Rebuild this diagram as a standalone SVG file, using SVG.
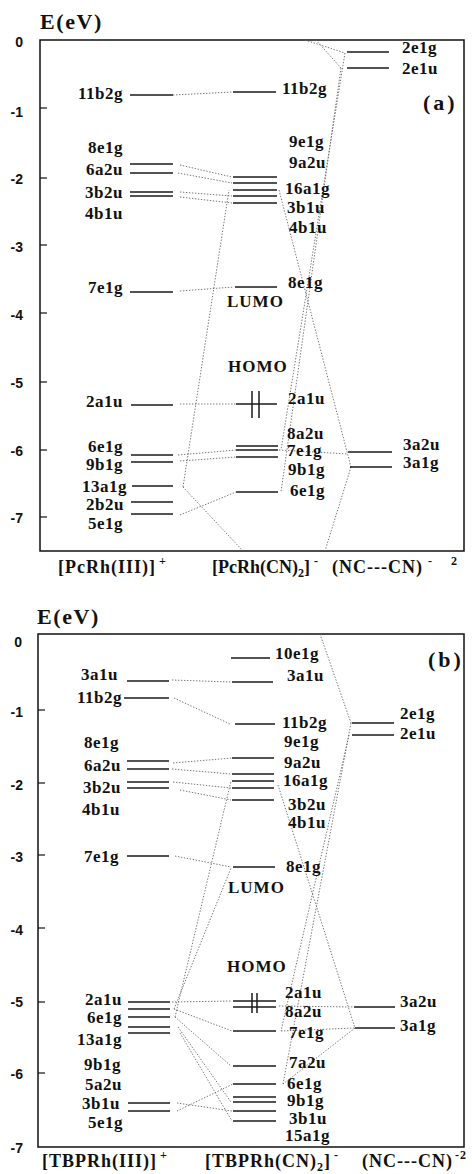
<svg xmlns="http://www.w3.org/2000/svg" width="472" height="1174" viewBox="0 0 472 1174">
<style>
.fr{fill:none;stroke:#111;stroke-width:1.5}
.tk{stroke:#111;stroke-width:1.2}
.lv{stroke:#1a1a1a;stroke-width:1.5}
.cn{fill:none;stroke:#666;stroke-width:0.9;stroke-dasharray:1.4 1.6}
.t{font-family:"Liberation Serif","Times New Roman",serif;font-weight:bold;font-size:17px;fill:#111;letter-spacing:0.5px}
.r{text-anchor:end}
.ax{font-family:"Liberation Sans",Arial,sans-serif;font-weight:bold;font-size:14px;fill:#111;text-anchor:end}
.big{font-family:"Liberation Serif","Times New Roman",serif;font-weight:bold;font-size:22px;fill:#111;letter-spacing:1.6px}
.pl{font-family:"Liberation Serif","Times New Roman",serif;font-weight:bold;font-size:22px;fill:#111;letter-spacing:3px}
.bt{font-family:"Liberation Serif","Times New Roman",serif;font-weight:bold;font-size:18px;fill:#111;letter-spacing:1px}
.bn{font-family:"Liberation Serif","Times New Roman",serif;font-weight:bold;font-size:18px;fill:#111;letter-spacing:0px}
.hl{font-family:"Liberation Serif","Times New Roman",serif;font-weight:bold;font-size:17px;fill:#111;letter-spacing:1px}
.sp{font-size:12px}
</style>

<!-- ================= Panel (a) ================= -->
<g id="a-axes">
<text class="big" x="40" y="29">E(eV)</text>
<rect class="fr" x="40" y="40" width="424" height="511"/>
<line class="tk" x1="40" y1="108" x2="47" y2="108"/>
<line class="tk" x1="40" y1="178" x2="47" y2="178"/>
<line class="tk" x1="40" y1="245" x2="47" y2="245"/>
<line class="tk" x1="40" y1="313" x2="47" y2="313"/>
<line class="tk" x1="40" y1="382" x2="47" y2="382"/>
<line class="tk" x1="40" y1="450" x2="47" y2="450"/>
<line class="tk" x1="40" y1="517" x2="47" y2="517"/>
<text class="ax" x="23" y="47">0</text>
<text class="ax" x="23" y="117">-1</text>
<text class="ax" x="23" y="184">-2</text>
<text class="ax" x="23" y="252">-3</text>
<text class="ax" x="23" y="320">-4</text>
<text class="ax" x="23" y="388">-5</text>
<text class="ax" x="23" y="456">-6</text>
<text class="ax" x="23" y="523">-7</text>
<text class="pl" x="423" y="110">(a)</text>
<text class="bt" x="58" y="573">[PcRh(III)]<tspan class="sp" dx="3" dy="-8">+</tspan></text>
<text class="bn" x="212" y="573">[PcRh(CN)<tspan class="sp" dy="4">2</tspan><tspan dy="-4">]</tspan><tspan class="sp" dx="4" dy="-8">-</tspan></text>
<text class="bt" x="332" y="573">(NC---CN)<tspan class="sp" x="428" dy="-8">-</tspan><tspan class="sp" x="451">2</tspan></text>
</g>

<g id="a-connectors">
<path class="cn" d="M173,95 L233,92"/>
<path class="cn" d="M180,165 L232,177"/>
<path class="cn" d="M178,173 L232,183"/>
<path class="cn" d="M180,192 L232,196"/>
<path class="cn" d="M180,197 L232,203"/>
<path class="cn" d="M180,291 L234,287"/>
<path class="cn" d="M180,404 L236,404"/>
<path class="cn" d="M178,455 L236,450"/>
<path class="cn" d="M180,461 L236,457"/>
<path class="cn" d="M183,487 L229,190"/>
<path class="cn" d="M183,487 L243,551"/>
<path class="cn" d="M180,515 L236,492"/>
<path class="cn" d="M305,40 L345,53"/>
<path class="cn" d="M316,40 L341,68"/>
<path class="cn" d="M345,53 L281,450"/>
<path class="cn" d="M341,68 L281,492"/>
<path class="cn" d="M279,190 L351,467"/>
<path class="cn" d="M279,450 L348,454"/>
<path class="cn" d="M351,467 L325,551"/>
</g>

<g id="a-c1-11b2g"><line class="lv" x1="130" y1="95" x2="173" y2="95"/><text class="t r" x="123" y="99">11b2g</text></g>
<g id="a-c1-8e1g"><line class="lv" x1="130" y1="164" x2="173" y2="164"/><text class="t r" x="123" y="153">8e1g</text></g>
<g id="a-c1-6a2u"><line class="lv" x1="130" y1="173" x2="173" y2="173"/><text class="t r" x="123" y="175">6a2u</text></g>
<g id="a-c1-3b2u"><line class="lv" x1="130" y1="192" x2="173" y2="192"/><text class="t r" x="123" y="198">3b2u</text></g>
<g id="a-c1-4b1u"><line class="lv" x1="130" y1="196" x2="173" y2="196"/><text class="t r" x="123" y="219">4b1u</text></g>
<g id="a-c1-7e1g"><line class="lv" x1="130" y1="292" x2="173" y2="292"/><text class="t r" x="123" y="293">7e1g</text></g>
<g id="a-c1-2a1u"><line class="lv" x1="131" y1="405" x2="173" y2="405"/><text class="t r" x="123" y="407">2a1u</text></g>
<g id="a-c1-6e1g"><line class="lv" x1="131" y1="455" x2="173" y2="455"/><text class="t r" x="123" y="452">6e1g</text></g>
<g id="a-c1-9b1g"><line class="lv" x1="131" y1="462" x2="173" y2="462"/><text class="t r" x="123" y="470">9b1g</text></g>
<g id="a-c1-13a1g"><line class="lv" x1="132" y1="486" x2="173" y2="486"/><text class="t r" x="127" y="492">13a1g</text></g>
<g id="a-c1-2b2u"><line class="lv" x1="131" y1="502" x2="173" y2="502"/><text class="t r" x="124" y="510">2b2u</text></g>
<g id="a-c1-5e1g"><line class="lv" x1="131" y1="514" x2="173" y2="514"/><text class="t r" x="123" y="529">5e1g</text></g>

<g id="a-c2-11b2g"><line class="lv" x1="233" y1="92" x2="276" y2="92"/><text class="t" x="282" y="94">11b2g</text></g>
<g id="a-c2-9e1g"><line class="lv" x1="233" y1="177" x2="277" y2="177"/><text class="t" x="289" y="147">9e1g</text></g>
<g id="a-c2-9a2u"><line class="lv" x1="233" y1="183" x2="277" y2="183"/><text class="t" x="289" y="168">9a2u</text></g>
<g id="a-c2-16a1g"><line class="lv" x1="233" y1="190" x2="277" y2="190"/><text class="t" x="285" y="194">16a1g</text></g>
<g id="a-c2-3b1u"><line class="lv" x1="233" y1="196" x2="277" y2="196"/><text class="t" x="287" y="213">3b1u</text></g>
<g id="a-c2-4b1u"><line class="lv" x1="233" y1="203" x2="277" y2="203"/><text class="t" x="289" y="233">4b1u</text></g>
<g id="a-c2-8e1g"><line class="lv" x1="235" y1="287" x2="277" y2="287"/><text class="t" x="288" y="288">8e1g</text></g>
<g id="a-lumo"><text class="hl" x="227" y="307">LUMO</text></g>
<g id="a-homo"><text class="hl" x="228" y="372">HOMO</text></g>
<g id="a-c2-2a1u"><line class="lv" x1="236" y1="404" x2="277" y2="404"/><line class="lv" x1="252" y1="391" x2="252" y2="418"/><line class="lv" x1="259" y1="391" x2="259" y2="418"/><text class="t" x="288" y="404">2a1u</text></g>
<g id="a-c2-8a2u"><line class="lv" x1="236" y1="446" x2="278" y2="446"/><text class="t" x="287" y="439">8a2u</text></g>
<g id="a-c2-7e1g"><line class="lv" x1="236" y1="450" x2="278" y2="450"/><text class="t" x="287" y="456">7e1g</text></g>
<g id="a-c2-9b1g"><line class="lv" x1="236" y1="457" x2="278" y2="457"/><text class="t" x="288" y="475">9b1g</text></g>
<g id="a-c2-6e1g"><line class="lv" x1="236" y1="492" x2="278" y2="492"/><text class="t" x="290" y="496">6e1g</text></g>

<g id="a-c3-2e1g"><line class="lv" x1="347" y1="52" x2="389" y2="52"/><text class="t" x="402" y="53">2e1g</text></g>
<g id="a-c3-2e1u"><line class="lv" x1="347" y1="68" x2="389" y2="68"/><text class="t" x="402" y="74">2e1u</text></g>
<g id="a-c3-3a2u"><line class="lv" x1="348" y1="452" x2="392" y2="452"/><text class="t" x="403" y="450">3a2u</text></g>
<g id="a-c3-3a1g"><line class="lv" x1="350" y1="467" x2="392" y2="467"/><text class="t" x="403" y="468">3a1g</text></g>

<!-- ================= Panel (b) ================= -->
<g id="b-axes">
<text class="big" x="37" y="624">E(eV)</text>
<rect class="fr" x="38" y="634" width="426" height="513"/>
<line class="tk" x1="38" y1="710" x2="45" y2="710"/>
<line class="tk" x1="38" y1="783" x2="45" y2="783"/>
<line class="tk" x1="38" y1="855" x2="45" y2="855"/>
<line class="tk" x1="38" y1="928" x2="45" y2="928"/>
<line class="tk" x1="38" y1="1002" x2="45" y2="1002"/>
<line class="tk" x1="38" y1="1073" x2="45" y2="1073"/>
<text class="ax" x="22" y="647">0</text>
<text class="ax" x="23" y="717">-1</text>
<text class="ax" x="23" y="790">-2</text>
<text class="ax" x="23" y="862">-3</text>
<text class="ax" x="23" y="935">-4</text>
<text class="ax" x="23" y="1007">-5</text>
<text class="ax" x="23" y="1079">-6</text>
<text class="ax" x="23" y="1153">-7</text>
<text class="pl" x="428" y="667">(b)</text>
<text class="bt" x="42" y="1167">[TBPRh(III)]<tspan class="sp" dx="3" dy="-8">+</tspan></text>
<text class="bt" x="205" y="1167">[TBPRh(CN)<tspan class="sp" dy="4">2</tspan><tspan dy="-4">]</tspan><tspan class="sp" dx="3" dy="-8">-</tspan></text>
<text class="bt" x="362" y="1167">(NC---CN)<tspan class="sp" dx="2" dy="-8">-2</tspan></text>
</g>

<g id="b-connectors">
<path class="cn" d="M172,680 L231,682"/>
<path class="cn" d="M174,698 L230,724"/>
<path class="cn" d="M173,763 L232,758"/>
<path class="cn" d="M172,769 L231,774"/>
<path class="cn" d="M173,782 L231,788"/>
<path class="cn" d="M180,790 L231,800"/>
<path class="cn" d="M175,856 L231,867"/>
<path class="cn" d="M172,1002 L232,1001"/>
<path class="cn" d="M174,1009 L231,868"/>
<path class="cn" d="M174,1009 L232,1031"/>
<path class="cn" d="M175,1017 L231,781"/>
<path class="cn" d="M175,1017 L231,1066"/>
<path class="cn" d="M178,1027 L231,1102"/>
<path class="cn" d="M180,1033 L232,1121"/>
<path class="cn" d="M177,1103 L232,1111"/>
<path class="cn" d="M177,1111 L233,1084"/>
<path class="cn" d="M320,634 L351,723"/>
<path class="cn" d="M351,723 L283,1084"/>
<path class="cn" d="M349,735 L281,1031"/>
<path class="cn" d="M278,785 L355,1028"/>
<path class="cn" d="M279,1006 L354,1007"/>
<path class="cn" d="M281,1031 L355,1028"/>
<path class="cn" d="M355,1028 L283,1084"/>
</g>

<g id="b-c1-3a1u"><line class="lv" x1="127" y1="681" x2="169" y2="681"/><text class="t r" x="118" y="680">3a1u</text></g>
<g id="b-c1-11b2g"><line class="lv" x1="124" y1="698" x2="169" y2="698"/><text class="t r" x="122" y="703">11b2g</text></g>
<g id="b-c1-8e1g"><line class="lv" x1="127" y1="761" x2="169" y2="761"/><text class="t r" x="119" y="748">8e1g</text></g>
<g id="b-c1-6a2u"><line class="lv" x1="127" y1="769" x2="169" y2="769"/><text class="t r" x="121" y="771">6a2u</text></g>
<g id="b-c1-3b2u"><line class="lv" x1="127" y1="782" x2="169" y2="782"/><text class="t r" x="121" y="793">3b2u</text></g>
<g id="b-c1-4b1u"><line class="lv" x1="127" y1="788" x2="169" y2="788"/><text class="t r" x="120" y="815">4b1u</text></g>
<g id="b-c1-7e1g"><line class="lv" x1="127" y1="856" x2="169" y2="856"/><text class="t r" x="119" y="862">7e1g</text></g>
<g id="b-c1-2a1u"><line class="lv" x1="128" y1="1002" x2="170" y2="1002"/><text class="t r" x="122" y="1005">2a1u</text></g>
<g id="b-c1-6e1g"><line class="lv" x1="128" y1="1009" x2="170" y2="1009"/><text class="t r" x="122" y="1023">6e1g</text></g>
<g id="b-c1-13a1g"><line class="lv" x1="128" y1="1017" x2="170" y2="1017"/><text class="t r" x="122" y="1045">13a1g</text></g>
<g id="b-c1-9b1g"><line class="lv" x1="128" y1="1027" x2="170" y2="1027"/><text class="t r" x="121" y="1070">9b1g</text></g>
<g id="b-c1-5a2u"><line class="lv" x1="128" y1="1033" x2="170" y2="1033"/><text class="t r" x="122" y="1090">5a2u</text></g>
<g id="b-c1-3b1u"><line class="lv" x1="128" y1="1103" x2="170" y2="1103"/><text class="t r" x="120" y="1109">3b1u</text></g>
<g id="b-c1-5e1g"><line class="lv" x1="128" y1="1111" x2="170" y2="1111"/><text class="t r" x="123" y="1128">5e1g</text></g>

<g id="b-c2-10e1g"><line class="lv" x1="231" y1="658" x2="270" y2="658"/><text class="t" x="275" y="659">10e1g</text></g>
<g id="b-c2-3a1u"><line class="lv" x1="232" y1="682" x2="273" y2="682"/><text class="t" x="287" y="681">3a1u</text></g>
<g id="b-c2-11b2g"><line class="lv" x1="235" y1="724" x2="275" y2="724"/><text class="t" x="282" y="728">11b2g</text></g>
<g id="b-c2-9e1g"><line class="lv" x1="232" y1="758" x2="274" y2="758"/><text class="t" x="284" y="747">9e1g</text></g>
<g id="b-c2-9a2u"><line class="lv" x1="232" y1="774" x2="274" y2="774"/><text class="t" x="284" y="768">9a2u</text></g>
<g id="b-c2-16a1g"><line class="lv" x1="232" y1="781" x2="274" y2="781"/><text class="t" x="283" y="786">16a1g</text></g>
<g id="b-c2-3b2u"><line class="lv" x1="232" y1="788" x2="274" y2="788"/><text class="t" x="288" y="810">3b2u</text></g>
<g id="b-c2-4b1u"><line class="lv" x1="232" y1="800" x2="274" y2="800"/><text class="t" x="288" y="828">4b1u</text></g>
<g id="b-c2-8e1g"><line class="lv" x1="233" y1="867" x2="275" y2="867"/><text class="t" x="286" y="872">8e1g</text></g>
<g id="b-lumo"><text class="hl" x="228" y="893">LUMO</text></g>
<g id="b-homo"><text class="hl" x="227" y="972">HOMO</text></g>
<g id="b-c2-2a1u"><line class="lv" x1="233" y1="1001" x2="276" y2="1001"/><line class="lv" x1="252" y1="993" x2="252" y2="1013"/><line class="lv" x1="257" y1="993" x2="257" y2="1013"/><text class="t" x="285" y="998">2a1u</text></g>
<g id="b-c2-8a2u"><line class="lv" x1="233" y1="1007" x2="276" y2="1007"/><text class="t" x="285" y="1017">8a2u</text></g>
<g id="b-c2-7e1g"><line class="lv" x1="233" y1="1031" x2="276" y2="1031"/><text class="t" x="289" y="1038">7e1g</text></g>
<g id="b-c2-7a2u"><line class="lv" x1="233" y1="1066" x2="276" y2="1066"/><text class="t" x="289" y="1068">7a2u</text></g>
<g id="b-c2-6e1g"><line class="lv" x1="233" y1="1084" x2="276" y2="1084"/><text class="t" x="287" y="1089">6e1g</text></g>
<g id="b-c2-9b1g"><line class="lv" x1="233" y1="1097" x2="276" y2="1097"/><line class="lv" x1="233" y1="1102" x2="276" y2="1102"/><text class="t" x="287" y="1106">9b1g</text></g>
<g id="b-c2-3b1u"><line class="lv" x1="233" y1="1111" x2="276" y2="1111"/><text class="t" x="289" y="1124">3b1u</text></g>
<g id="b-c2-15a1g"><line class="lv" x1="233" y1="1121" x2="276" y2="1121"/><text class="t" x="285" y="1141">15a1g</text></g>

<g id="b-c3-2e1g"><line class="lv" x1="352" y1="723" x2="394" y2="723"/><text class="t" x="400" y="719">2e1g</text></g>
<g id="b-c3-2e1u"><line class="lv" x1="352" y1="735" x2="394" y2="735"/><text class="t" x="400" y="739">2e1u</text></g>
<g id="b-c3-3a2u"><line class="lv" x1="354" y1="1007" x2="395" y2="1007"/><text class="t" x="400" y="1007">3a2u</text></g>
<g id="b-c3-3a1g"><line class="lv" x1="355" y1="1028" x2="395" y2="1028"/><text class="t" x="400" y="1031">3a1g</text></g>
</svg>
